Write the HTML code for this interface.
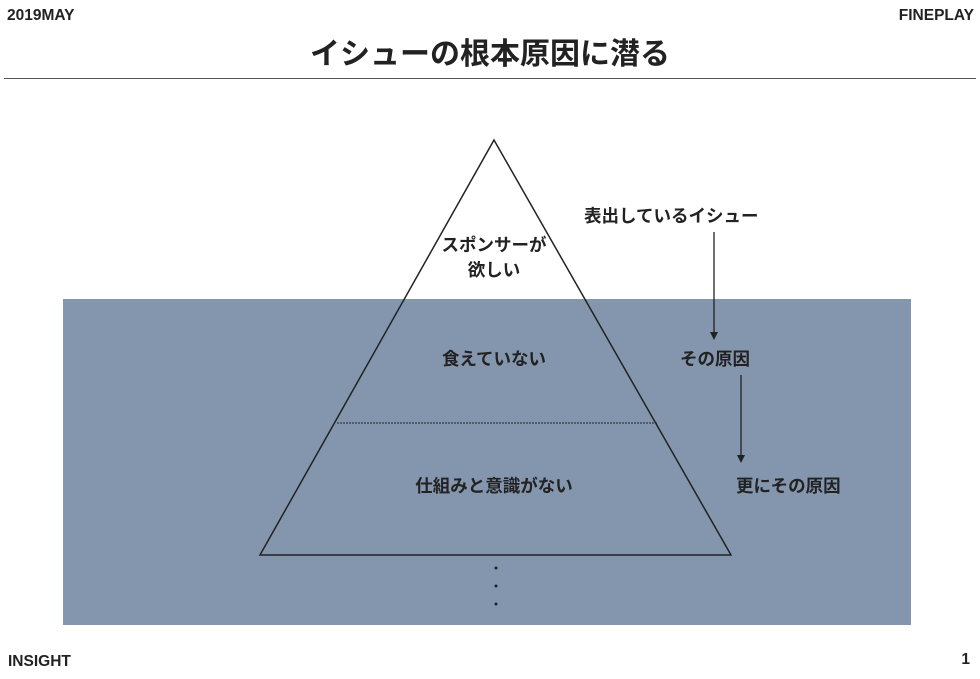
<!DOCTYPE html>
<html><head><meta charset="utf-8"><style>
body{margin:0;width:980px;height:679px;background:#fff;position:relative;overflow:hidden;font-family:"Liberation Sans","Noto Sans CJK JP",sans-serif;color:#222}
.t{position:absolute;font-weight:bold;white-space:nowrap}
</style></head><body>
<div class="t" style="left:7px;top:7px;font-size:15.5px">2019MAY</div>
<div class="t" style="right:6px;top:7px;font-size:15.5px">FINEPLAY</div>
<div class="t" style="left:0;width:980px;text-align:center;top:29px;font-size:30px">イシューの根本原因に潜る</div>
<div style="position:absolute;left:4px;width:972px;top:78px;height:1px;background:#555"></div>
<div style="position:absolute;left:63px;top:299px;width:848px;height:326px;background:#8496ae"></div>
<svg width="980" height="679" style="position:absolute;left:0;top:0">
<polygon points="494,140 260,555 731,555" fill="none" stroke="#222" stroke-width="1.5"/>
<line x1="337" y1="423" x2="658" y2="423" stroke="#222" stroke-width="1" stroke-dasharray="2,1"/>
<line x1="714" y1="232" x2="714" y2="333" stroke="#222" stroke-width="1.3"/>
<polygon points="710,332 718,332 714,340" fill="#222"/>
<line x1="741" y1="375" x2="741" y2="456" stroke="#222" stroke-width="1.3"/>
<polygon points="737,455 745,455 741,463" fill="#222"/>
<circle cx="496" cy="568" r="1.5" fill="#222"/>
<circle cx="496" cy="586" r="1.5" fill="#222"/>
<circle cx="496" cy="604" r="1.5" fill="#222"/>
</svg>
<div class="t" style="left:394px;width:200px;text-align:center;top:233px;font-size:17.5px;line-height:25px">スポンサーが<br>欲しい</div>
<div class="t" style="left:394px;width:200px;text-align:center;top:346px;font-size:17.5px">食えていない</div>
<div class="t" style="left:394px;width:200px;text-align:center;top:473px;font-size:17.5px">仕組みと意識がない</div>
<div class="t" style="left:584px;top:203px;font-size:17.5px">表出しているイシュー</div>
<div class="t" style="left:680px;top:346px;font-size:17.5px">その原因</div>
<div class="t" style="left:736px;top:473px;font-size:17.5px">更にその原因</div>
<div class="t" style="left:8px;top:653px;font-size:15.5px">INSIGHT</div>
<div class="t" style="right:10px;top:651px;font-size:15.5px">1</div>
</body></html>
